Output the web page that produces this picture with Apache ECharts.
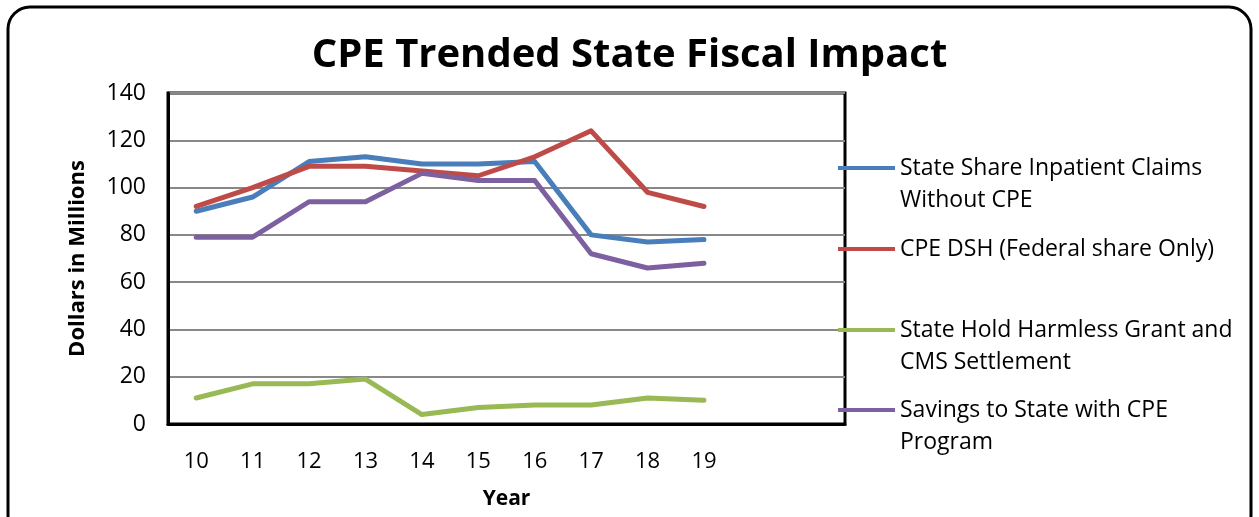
<!DOCTYPE html>
<html>
<head>
<meta charset="utf-8">
<script src="https://cdn.jsdelivr.net/npm/echarts@6/dist/echarts.min.js"></script>
<style>
html,body{margin:0;padding:0;background:#fff;}
#chart{width:1259px;height:517px;}
</style>
</head>
<body>
<div id="chart"></div>
<script>
const categories = ['10','11','12','13','14','15','16','17','18','19','',''];
const stateShare = [90, 96, 111, 113, 110, 110, 111, 80, 77, 78];
const cpeDsh = [92, 100, 109, 109, 107, 105, 113, 124, 98, 92];
const holdHarmless = [11, 17, 17, 19, 4, 7, 8, 8, 11, 10];
const savings = [79, 79, 94, 94, 106, 103, 103, 72, 66, 68];
const yTicks = [0, 20, 40, 60, 80, 100, 120, 140];

const seriesNames = [
  'State Share Inpatient Claims Without CPE',
  'CPE DSH (Federal share Only)',
  'State Hold Harmless Grant and CMS Settlement',
  'Savings to State with CPE Program'
];
const legendLines = [
  ['State Share Inpatient Claims', 'Without CPE'],
  ['CPE DSH (Federal share Only)'],
  ['State Hold Harmless Grant and', 'CMS Settlement'],
  ['Savings to State with CPE', 'Program']
];
const colors = ['#4A7EBB', '#BE4B48', '#98B954', '#7D60A0'];
const dataSets = [stateShare, cpeDsh, holdHarmless, savings];
const legendTops = [168, 249, 330, 410];

const FONT = '"Open Sans", Lato, sans-serif';
const LH = 32;
const chart = echarts.init(document.getElementById('chart'), null, {renderer: 'canvas'});

const legends = seriesNames.map((n, i) => {
  const lines = legendLines[i];
  const multi = lines.length > 1;
  const txt = multi ? '\u00A0\n' + lines.join('\n') : lines[0];
  const nLines = multi ? 3 : 1;
  return {
    data: [n],
    left: 838,
    top: legendTops[i] - nLines * LH / 2,
    orient: 'vertical',
    icon: 'rect',
    itemWidth: 57,
    itemHeight: 4,
    selectedMode: false,
    padding: 0,
    formatter: () => txt,
    textStyle: {
      fontFamily: FONT,
      fontSize: 23,
      color: '#000',
      lineHeight: LH
    }
  };
});

chart.setOption({
  animation: false,
  backgroundColor: '#fff',
  title: {
    text: 'CPE Trended State Fiscal Impact',
    left: 'center',
    top: 31,
    textStyle: {fontFamily: FONT, fontWeight: 'bold', fontSize: 40, color: '#000'}
  },
  graphic: [{
    type: 'rect',
    shape: {x: 8, y: 7, width: 1243, height: 530, r: 22},
    style: {fill: 'none', stroke: '#000', lineWidth: 3},
    z: -10
  }],
  legend: legends,
  grid: {left: 168, top: 93, right: 414, bottom: 93, show: true, borderColor: '#000', borderWidth: 3, backgroundColor: '#fff'},
  xAxis: {
    type: 'category',
    data: categories,
    boundaryGap: true,
    name: 'Year',
    nameLocation: 'middle',
    nameGap: 65,
    nameTextStyle: {fontFamily: FONT, fontWeight: 'bold', fontSize: 21, color: '#000'},
    axisLine: {lineStyle: {color: '#000', width: 3}},
    axisTick: {show: false},
    axisLabel: {fontFamily: FONT, fontSize: 22, color: '#000', margin: 27}
  },
  yAxis: {
    type: 'value',
    min: 0,
    max: 140,
    interval: 20,
    name: 'Dollars in Millions',
    nameLocation: 'middle',
    nameGap: 79,
    nameRotate: 90,
    nameTextStyle: {fontFamily: FONT, fontWeight: 'bold', fontSize: 22, color: '#000'},
    axisLine: {show: true, lineStyle: {color: '#000', width: 3}},
    axisTick: {show: false},
    splitLine: {lineStyle: {color: '#888', width: 2}},
    axisLabel: {
      fontFamily: FONT, fontSize: 23, color: '#000', margin: 22,
      formatter: v => yTicks.includes(v) ? String(v) : ''
    }
  },
  series: seriesNames.map((n, i) => ({
    name: n,
    type: 'line',
    data: dataSets[i],
    showSymbol: false,
    symbol: 'none',
    color: colors[i],
    lineStyle: {width: 5, color: colors[i], cap: 'round', join: 'round'}
  }))
});
</script>
</body>
</html>
